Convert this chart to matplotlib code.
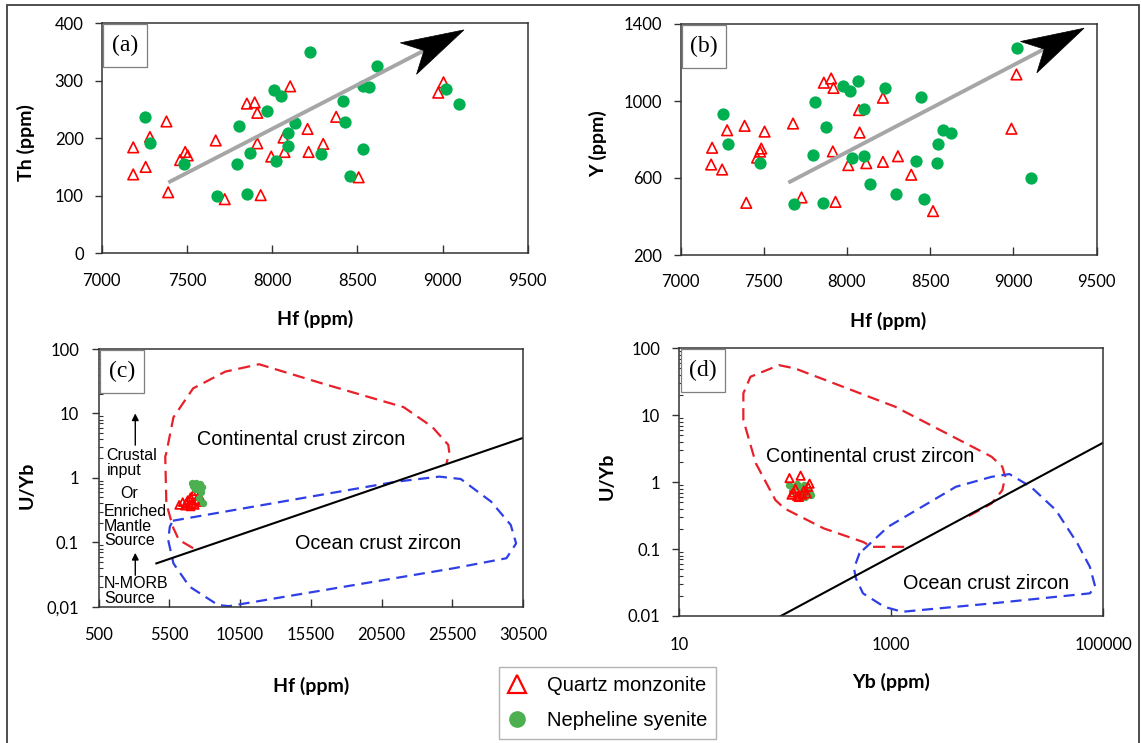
import matplotlib
matplotlib.use("Agg")
import matplotlib.pyplot as plt
import numpy as np
from matplotlib.patches import Rectangle, Polygon
from matplotlib.lines import Line2D

plt.rcParams['font.family'] = ['Lato', 'DejaVu Sans']

W, H, DPI = 1141, 743, 100

# ---------------- data ----------------
# (a) Hf vs Th
qm_hf_a = [7185, 7185, 7258, 7283, 7380, 7390, 7460, 7490, 7505, 7669, 7722, 7852, 7898, 7913,
           7913, 7933, 7995, 8067, 8073, 8106, 8208, 8214, 8300, 8376, 8508, 8975, 9006]
qm_th = [184, 137, 150, 202, 229, 106, 162, 176, 170, 196, 94, 260, 262, 244,
         191, 101, 168, 201, 176, 290, 216, 176, 190, 237, 132, 279, 297]
ns_hf_a = [7253, 7283, 7482, 7677, 7855, 7794, 7872, 7806, 7972, 8009, 8054, 8025, 8093, 8093,
           8136, 8224, 8288, 8415, 8430, 8458, 8536, 8532, 8567, 8616, 9020, 9098]
ns_th = [236, 192, 155, 100, 103, 155, 174, 221, 248, 284, 274, 161, 187, 209,
         227, 349, 173, 264, 228, 134, 181, 290, 289, 325, 285, 260]
trend_a_hf = [7391, 9126]
trend_a_th = [123, 388]

# (b) Hf vs Y
qm_hf_b = [7190, 7184, 7250, 7280, 7385, 7395, 7460, 7485, 7478, 7505, 7676, 7727, 7861, 7905,
           7919, 7915, 7931, 8008, 8072, 8076, 8116, 8216, 8216, 8306, 8386, 8517, 8988, 9018]
qm_y = [757, 670, 644, 848, 871, 471, 706, 753, 737, 841, 883, 499, 1095, 1117,
        1068, 738, 476, 667, 953, 836, 677, 1017, 684, 713, 617, 428, 856, 1138]
ns_hf_b = [7255, 7285, 7478, 7680, 7858, 7807, 7873, 7793, 7978, 8018, 8064, 8100, 8028, 8100,
           8138, 8229, 8295, 8416, 8442, 8462, 8542, 8546, 8576, 8626, 9024, 9108]
ns_y = [935, 776, 680, 464, 471, 995, 866, 720, 1078, 1053, 1104, 957, 704, 713,
        571, 1069, 519, 689, 1019, 489, 680, 776, 848, 832, 1273, 598]
trend_b_hf = [7648, 9424]
trend_b_y = [576, 1378]

# (c) Hf vs U/Yb
qm_hf_c = [6200, 6450, 6600, 6800, 6900, 7000, 7100, 7200, 7300, 7400, 7550, 7650, 7000, 7700, 6700, 7300]
qm_uyb_c = [0.38, 0.42, 0.37, 0.45, 0.38, 0.50, 0.40, 0.55, 0.62, 0.45, 0.70, 0.52, 0.36, 0.42, 0.40, 0.38]
ns_hf_c = [7100, 7400, 7650, 7800, 7500, 7750, 7300, 7900, 7600, 7200]
ns_uyb_c = [0.82, 0.84, 0.80, 0.72, 0.68, 0.60, 0.66, 0.40, 0.48, 0.74]
cont_c_hf = [7185, 6175, 5794, 5618, 5293, 5215, 5286, 5794, 7185, 9451, 11844, 16256, 22058, 24070, 25207, 25285, 25080]
cont_c_uyb = [0.081, 0.109, 0.165, 0.222, 0.40, 2.13, 2.41, 8.7, 24.5, 44.5, 58, 29.4, 12.5, 6.2, 3.25, 2.41, 1.69]
ocean_c_hf = [5752, 21550, 24578, 26090, 28236, 29620, 30000, 29315, 25588, 9712, 8950, 6930, 5794, 5420, 5540, 5752]
ocean_c_uyb = [0.216, 0.873, 1.045, 0.96, 0.427, 0.186, 0.096, 0.0565, 0.0395, 0.0102, 0.0106, 0.0205, 0.047, 0.109, 0.175, 0.216]
disc_c_hf = [4587, 30424]
disc_c_uyb = [0.047, 4.12]

# (d) Yb vs U/Yb
qm_yb_d = [110, 140, 165, 120, 130, 145, 150, 125, 160, 135, 170, 115]
qm_uyb_d = [1.15, 1.25, 0.85, 0.70, 0.62, 0.65, 0.75, 0.80, 0.68, 0.60, 0.95, 0.65]
ns_yb_d = [110, 120, 130, 140, 150, 160, 170, 115, 145, 175, 155]
ns_uyb_d = [0.90, 0.85, 0.95, 0.80, 0.90, 0.75, 0.70, 0.75, 0.65, 0.65, 0.60]
cont_d_yb = [1324, 658, 542, 231, 98.4, 81, 53, 40.4, 40.4, 47.2, 87.7, 124, 1089, 8830, 11160, 11860, 11160, 8830, 5140]
cont_d_uyb = [0.108, 0.108, 0.128, 0.204, 0.405, 0.54, 1.91, 8.5, 21.2, 37.6, 56, 50, 13.4, 2.4, 1.70, 1.20, 0.76, 0.48, 0.30]
ocean_d_yb = [542, 933, 4074, 8830, 13020, 20700, 35600, 56800, 74500, 83700, 74500, 8830, 1270, 863, 542, 465, 446, 502, 542]
ocean_d_uyb = [0.0966, 0.215, 0.853, 1.2, 1.32, 0.853, 0.383, 0.122, 0.0544, 0.0274, 0.0218, 0.0154, 0.01156, 0.0137, 0.0218, 0.0365, 0.0514, 0.0863, 0.0966]
disc_d_yb = [89, 99300]
disc_d_uyb = [0.0098, 3.88]

ticks_ab_x = [7000, 7500, 8000, 8500, 9000, 9500]
ticks_a_y = [0, 100, 200, 300, 400]
ticks_b_y = [200, 600, 1000, 1400]
ticks_c_x = [500, 5500, 10500, 15500, 20500, 25500, 30500]
ticks_cd_y = [0.01, 0.1, 1, 10, 100]
ticks_c_ylab = ['0,01', '0.1', '1', '10', '100']
ticks_d_ylab = ['0.01', '0.1', '1', '10', '100']
ticks_d_x = [10, 1000, 100000]

RED = '#FF0000'
GREEN = '#00B050'
GREEN2 = '#4CAF50'
SPINE = '#333333'
SANS = ['Liberation Sans', 'DejaVu Sans']
SERIF = ['Liberation Serif', 'DejaVu Serif']
TICK_FS = 12
LAB_FS = 14

fig = plt.figure(figsize=(W / DPI, H / DPI), dpi=DPI)


def px_axes(l, t, r, b):
    return fig.add_axes([l / W, 1 - b / H, (r - l) / W, (b - t) / H])


def style(ax, xpad, ypad):
    for s in ax.spines.values():
        s.set_color(SPINE)
        s.set_linewidth(1.1)
    ax.tick_params(axis='x', which='major', direction='in', length=6, width=1, pad=xpad,
                   labelsize=TICK_FS, color=SPINE)
    ax.tick_params(axis='y', which='major', direction='out', length=5, width=1, pad=ypad,
                   labelsize=TICK_FS, color=SPINE)
    ax.tick_params(axis='y', which='minor', direction='in', length=3, width=0.8, color=SPINE)
    ax.tick_params(axis='x', which='minor', bottom=False)


def panel_label(ax, txt):
    pos = ax.get_position()
    aw, ah = pos.width * W, pos.height * H
    x0, wbox, hbox = 1.5 / aw, 44 / aw, 43 / ah
    y0 = 1 - 1 / ah - hbox
    ax.add_patch(Rectangle((x0, y0), wbox, hbox, transform=ax.transAxes, fill=True,
                           fc='white', ec='#7F7F7F', lw=0.9, zorder=5))
    ax.text(x0 + wbox / 2, y0 + hbox / 2, txt, transform=ax.transAxes, ha='center', va='center',
            fontsize=17, family=SERIF, zorder=6)


def trend_arrow(ax, xs, ys):
    # xs, ys: start and tip in data coords; head built in pixel space
    p0 = ax.transData.transform((xs[0], ys[0]))
    p1 = ax.transData.transform((xs[1], ys[1]))
    u = (p1 - p0) / np.hypot(*(p1 - p0))
    n = np.array([-u[1], u[0]])
    L, Wd, N = 62.5, 17.7, 45.0
    notch = p1 - N * u
    head = np.array([p1, p1 - L * u + Wd * n, notch, p1 - L * u - Wd * n])
    inv = ax.transData.inverted()
    nd = inv.transform(notch)
    ax.plot([xs[0], nd[0]], [ys[0], nd[1]], color='#A6A6A6', lw=2.8, solid_capstyle='butt', zorder=3)
    ax.add_patch(Polygon(inv.transform(head), closed=True, fc='black', ec='black', lw=0.5, zorder=4))


def labels(ax, xl, yl, xy, yx, yy):
    ax.set_xlabel(xl, fontsize=LAB_FS, fontweight='bold')
    ax.set_ylabel(yl, fontsize=LAB_FS, fontweight='bold')
    ax.xaxis.set_label_coords(0.5, xy)
    ax.yaxis.set_label_coords(yx, yy)


# ---------------- (a) ----------------
axA = px_axes(101.7, 23, 527.7, 253.3)
axA.set_xlim(7000, 9500)
axA.set_ylim(0, 400)
axA.set_xticks(ticks_ab_x)
axA.set_yticks(ticks_a_y)
style(axA, 14.5, 8)
axA.scatter(qm_hf_a, qm_th, marker='^', s=58, facecolors='none', edgecolors=RED, linewidths=1.2, zorder=2)
axA.scatter(ns_hf_a, ns_th, marker='o', s=78, color=GREEN, linewidths=0, zorder=2.5)
trend_arrow(axA, trend_a_hf, trend_a_th)
labels(axA, 'Hf (ppm)', 'Th (ppm)', -0.246, -0.1566, 0.48)
panel_label(axA, '(a)')

# ---------------- (b) ----------------
axB = px_axes(680.5, 24, 1096.7, 255)
axB.set_xlim(7000, 9500)
axB.set_ylim(200, 1400)
axB.set_xticks(ticks_ab_x)
axB.set_yticks(ticks_b_y)
style(axB, 14, 8)
axB.scatter(qm_hf_b, qm_y, marker='^', s=58, facecolors='none', edgecolors=RED, linewidths=1.2, zorder=2)
axB.scatter(ns_hf_b, ns_y, marker='o', s=78, color=GREEN, linewidths=0, zorder=2.5)
trend_arrow(axB, trend_b_hf, trend_b_y)
labels(axB, 'Hf (ppm)', 'Y (ppm)', -0.245, -0.177, 0.483)
panel_label(axB, '(b)')

# ---------------- (c) ----------------
axC = px_axes(98.5, 349, 523.2, 606.7)
axC.set_yscale('log')
axC.set_xlim(500, 30500)
axC.set_ylim(0.01, 100)
axC.set_xticks(ticks_c_x)
axC.set_yticks(ticks_cd_y)
axC.set_yticklabels(ticks_c_ylab)
style(axC, 14.5, 9)
axC.plot(cont_c_hf, cont_c_uyb, color='#E8202A', lw=1.6, dashes=(5.5, 3), zorder=2)
axC.plot(ocean_c_hf, ocean_c_uyb, color='#2F3FE6', lw=1.6, dashes=(5, 3), zorder=2)
axC.plot(disc_c_hf, disc_c_uyb, color='black', lw=1.5, zorder=2)
axC.scatter(qm_hf_c, qm_uyb_c, marker='^', s=32, facecolors='none', edgecolors=RED, linewidths=1.3, zorder=3)
axC.scatter(ns_hf_c, ns_uyb_c, marker='o', s=28, color=GREEN2, linewidths=0, zorder=3.5)
axC.text(14800, 3.9, 'Continental crust zircon', ha='center', va='center', fontsize=14.3, family=SANS)
axC.text(20250, 0.096, 'Ocean crust zircon', ha='center', va='center', fontsize=14.3, family=SANS)
side = [('Crustal', 0.0193, 0.585, 'left'), ('input', 0.0193, 0.530, 'left'),
        ('Or', 0.073, 0.440, 'center'), ('Enriched', 0.0127, 0.369, 'left'),
        ('Mantle', 0.0127, 0.310, 'left'), ('Source', 0.0127, 0.255, 'left'),
        ('N-MORB', 0.0127, 0.091, 'left'), ('Source', 0.0127, 0.0326, 'left')]
for s, fx, fy, ha in side:
    axC.text(fx, fy, s, transform=axC.transAxes, ha=ha, va='center', fontsize=11.5, family=SANS)
axC.annotate('', xy=(0.0866, 0.750), xytext=(0.0866, 0.627), xycoords='axes fraction',
             arrowprops=dict(arrowstyle='-|>', color='black', lw=1.0, mutation_scale=10, shrinkA=0, shrinkB=0))
axC.annotate('', xy=(0.0866, 0.209), xytext=(0.0866, 0.122), xycoords='axes fraction',
             arrowprops=dict(arrowstyle='-|>', color='black', lw=1.0, mutation_scale=10, shrinkA=0, shrinkB=0))
labels(axC, 'Hf (ppm)', 'U/Yb', -0.272, -0.148, 0.472)
panel_label(axC, '(c)')

# ---------------- (d) ----------------
axD = px_axes(679, 348.3, 1103.4, 616)
axD.set_xscale('log')
axD.set_yscale('log')
axD.set_xlim(10, 100000)
axD.set_ylim(0.01, 100)
axD.set_xticks(ticks_d_x)
axD.set_xticklabels([str(v) for v in ticks_d_x])
axD.set_yticks(ticks_cd_y)
axD.set_yticklabels(ticks_d_ylab)
style(axD, 15, 8.5)
axD.plot(cont_d_yb, cont_d_uyb, color='#E8202A', lw=1.6, dashes=(5.5, 3), zorder=2)
axD.plot(ocean_d_yb, ocean_d_uyb, color='#2F3FE6', lw=1.6, dashes=(5, 3), zorder=2)
axD.plot(disc_d_yb, disc_d_uyb, color='black', lw=1.5, zorder=2)
axD.scatter(ns_yb_d, ns_uyb_d, marker='o', s=28, color=GREEN2, linewidths=0, zorder=3)
axD.scatter(qm_yb_d, qm_uyb_d, marker='^', s=36, facecolors='none', edgecolors=RED, linewidths=1.3, zorder=3.5)
axD.text(632, 2.4, 'Continental crust zircon', ha='center', va='center', fontsize=14.3, family=SANS)
axD.text(7870, 0.031, 'Ocean crust zircon', ha='center', va='center', fontsize=14.3, family=SANS)
labels(axD, 'Yb (ppm)', 'U/Yb', -0.214, -0.149, 0.52)
panel_label(axD, '(d)')

# ---------------- legend ----------------
handles = [Line2D([], [], marker='^', ls='none', mfc='none', mec=RED, ms=13, mew=1.6),
           Line2D([], [], marker='o', ls='none', color=GREEN2, ms=11)]
leg = fig.legend(handles, ['Quartz monzonite', 'Nepheline syenite'], loc='upper left',
                 bbox_to_anchor=(499 / W, 1 - 667.3 / H), bbox_transform=fig.transFigure,
                 prop={'family': SANS, 'size': 14.5}, frameon=True, fancybox=False,
                 edgecolor='#A0A0A0', borderpad=0.42, labelspacing=0.82, handlelength=0.95,
                 handletextpad=1.0, borderaxespad=0)
leg.get_frame().set_linewidth(1.0)

# outer frame
fig.add_artist(Rectangle((6.7 / W, -0.02), (1139.3 - 6.7) / W, 1.02 - 5 / H,
                         transform=fig.transFigure, fill=False, ec='#404040', lw=1.3))

fig.savefig('out.png', dpi=DPI)
